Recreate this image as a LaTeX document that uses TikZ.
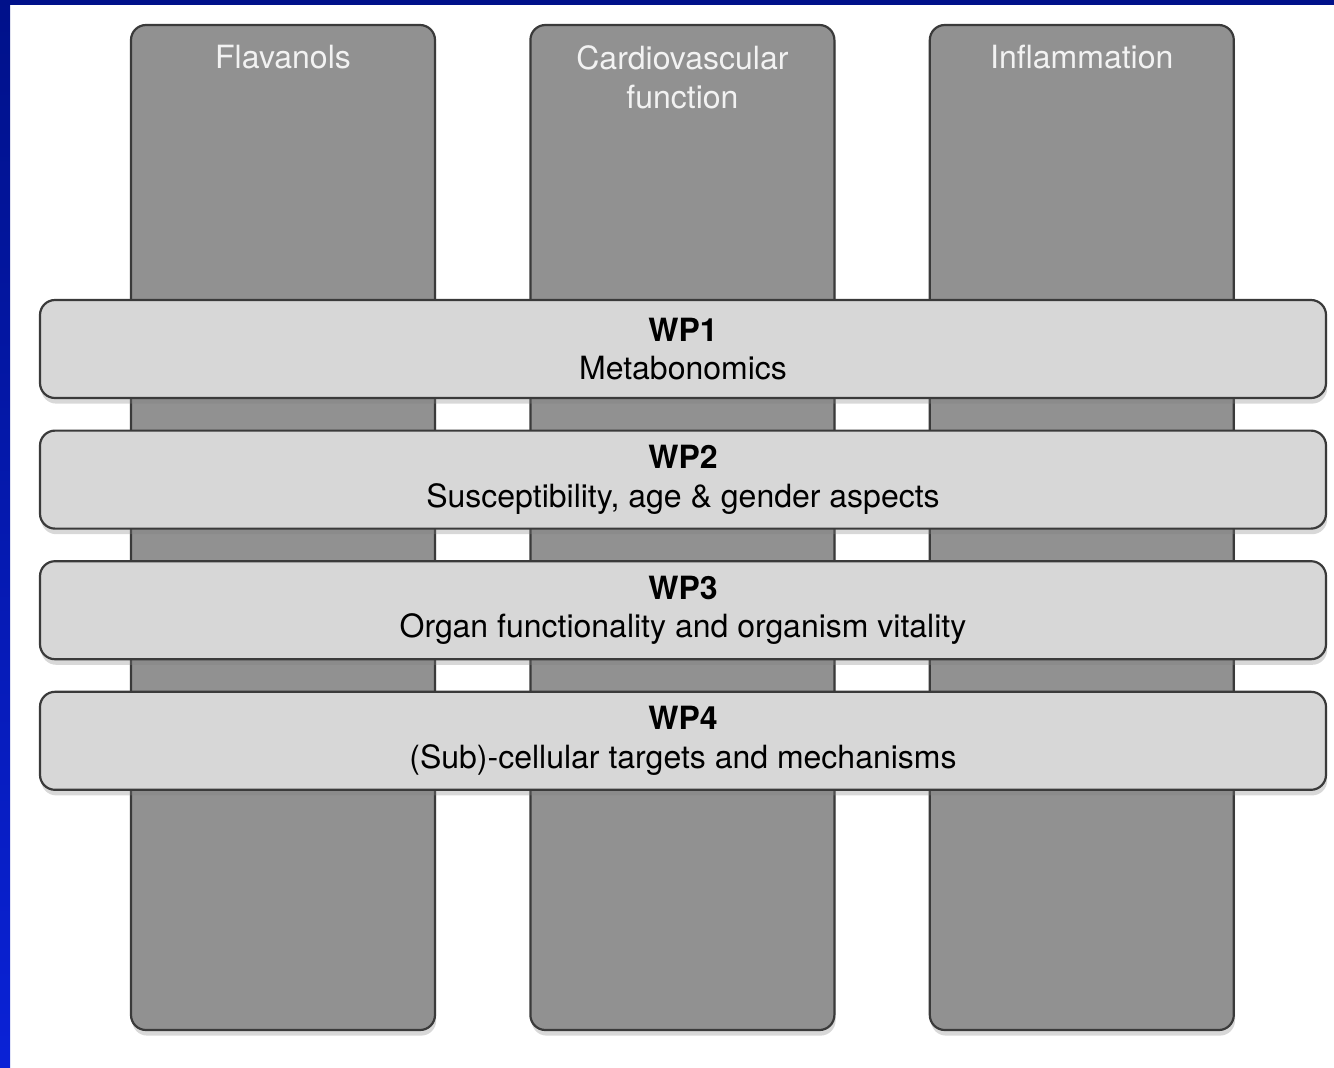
\documentclass[tikz,border=0pt]{standalone}
\usepackage{fontspec}
\setmainfont{TeX Gyre Heros}
\usetikzlibrary{positioning,shadows}
\definecolor{colgray}{HTML}{919191}
\definecolor{bargray}{HTML}{D7D7D7}
\definecolor{edgegray}{HTML}{3A3A3A}
\definecolor{labelwhite}{HTML}{F2F2F2}
\definecolor{framenavy}{HTML}{00118A}
\definecolor{frameblue}{HTML}{0A22D6}
\tikzset{
  theme/.style={draw=edgegray, line width=1.1pt, fill=colgray, rounded corners=7.5pt,
    minimum width=152pt, minimum height=502.5pt, inner sep=0pt,
    drop shadow={shadow xshift=0.6pt, shadow yshift=-2.8pt, opacity=0.3}},
  themelabel/.style={text=labelwhite, anchor=north, inner sep=0pt, align=center,
    font=\fontsize{16}{19.5}\selectfont},
  wpbar/.style={draw=edgegray, line width=1.1pt, fill=bargray, rounded corners=7.5pt,
    minimum width=643pt, minimum height=49pt, inner sep=0pt, align=center,
    font=\fontsize{16}{19.3}\selectfont,
    drop shadow={shadow xshift=0.6pt, shadow yshift=-2.8pt, opacity=0.3}}
}
\begin{document}
\begin{tikzpicture}[x=0.5pt,y=-0.5pt]
  \useasboundingbox (0,0) rectangle (1334,1067);
  \fill[white] (0,0) rectangle (1334,1067);
  % slide frame
  \shade[top color=framenavy, bottom color=frameblue] (0,0) rectangle (10,1067);
  \fill[framenavy] (0,0) rectangle (1334,5);

  % the three research themes
  \node[theme] (flav) at (283,527.5) {};
  \node[theme, right=46.6pt of flav] (cardio) {};
  \node[theme, right=46.6pt of cardio] (inflam) {};
  \node[themelabel] (flavlab) at ([yshift=-10.5pt]flav.north) {Flavanols};
  \node[themelabel] (cardiolab) at ([yshift=-10.5pt]cardio.north) {Cardiovascular\\function};
  \node[themelabel] (inflamlab) at ([yshift=-10.5pt]inflam.north) {Inflammation};

  % work packages crossing the themes
  \node[wpbar] (wp1) at (683,349) {\textbf{WP1}\\Metabonomics};
  \node[wpbar, below=15.2pt of wp1] (wp2) {\textbf{WP2}\\Susceptibility, age \& gender aspects};
  \node[wpbar, below=15.2pt of wp2] (wp3) {\textbf{WP3}\\Organ functionality and organism vitality};
  \node[wpbar, below=15.2pt of wp3] (wp4) {\textbf{WP4}\\(Sub)-cellular targets and mechanisms};
\end{tikzpicture}
\end{document}
